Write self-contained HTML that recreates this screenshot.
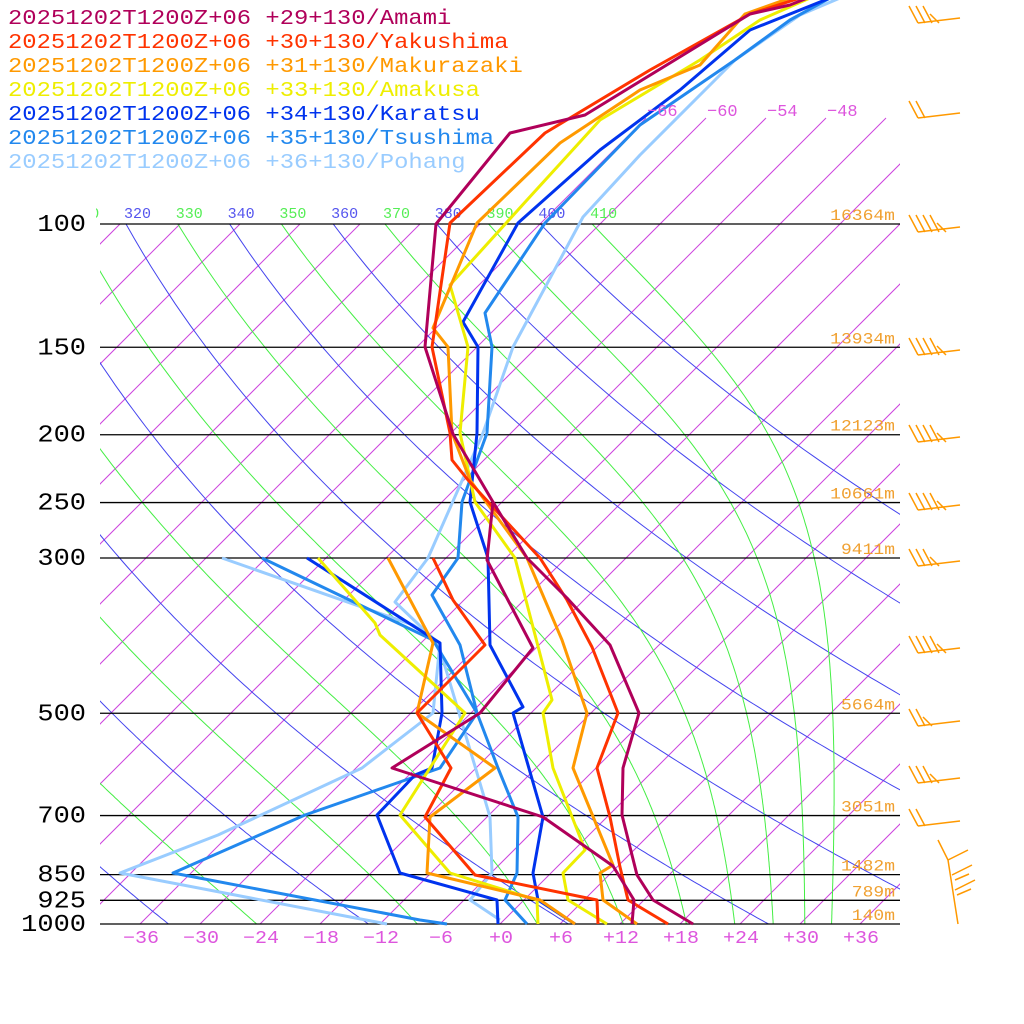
<!DOCTYPE html>
<html><head><meta charset="utf-8"><style>
html,body{margin:0;padding:0;background:#fff;width:1024px;height:1024px;overflow:hidden}
svg{display:block}
text{font-family:"Liberation Mono",monospace}
</style></head><body>
<svg id="s" width="1024" height="1024" viewBox="0 0 1024 1024" xmlns="http://www.w3.org/2000/svg">
<defs>
<clipPath id="plot"><rect x="100" y="224" width="800" height="700"/></clipPath>
<clipPath id="up"><rect x="100" y="110" width="800" height="814"/></clipPath>
<clipPath id="lab"><rect x="96" y="190" width="820" height="40"/></clipPath>
</defs>
<g id="iso" clip-path="url(#up)"></g>
<g id="moist" clip-path="url(#plot)"></g>
<g id="labs" clip-path="url(#lab)"></g>
<g id="grid"></g>
<g id="prof" fill="none" stroke-width="3" stroke-linejoin="round"></g>
<g id="txt"></g>
<g id="barbs" stroke="#ff9900" stroke-width="1.5" fill="none"></g>
</svg>
<script>
const NS="http://www.w3.org/2000/svg";
function el(tag,attrs,parent,text){const e=document.createElementNS(NS,tag);for(const k in attrs)e.setAttribute(k,attrs[k]);if(text!==undefined)e.textContent=text;document.getElementById(parent).appendChild(e);return e;}
const Y=p=>924-700*Math.log(1000/p)/Math.LN10;
const X=(T,y)=>500+10*T+(924-y);
// isotherms
for(let T=-120;T<=60;T+=6){
  const yTop = T>=-66 ? 118 : 224;
  el('line',{x1:X(T,924),y1:924,x2:X(T,yTop),y2:yTop,stroke:'#cc44dd','stroke-width':1},'iso');
}
[-66,-60,-54,-48].forEach(T=>{const x=X(T,118);el('text',{x:x+1,y:116,fill:'#dd55dd','font-size':17},'txt','−'+Math.abs(T));});
const Rd=287,cp=1005,Lv=2.5e6,eps=0.622;
function es(Tc){return 6.112*Math.exp(17.67*Tc/(Tc+243.5));}
// dry adiabats (blue, even)
for(let th=200;th<=400;th+=20){
  let pts=[];
  for(let p=100;p<=1000;p+=5){const y=Y(p);const T=th*Math.pow(p/1000,0.2857)-273.15;pts.push(X(T,y).toFixed(1)+','+y.toFixed(1));}
  el('polyline',{points:pts.join(' '),fill:'none',stroke:'#4444ee','stroke-width':1},'moist');
  el('text',{x:X(th*Math.pow(0.1,0.2857)-273.15,224)-2,y:218,fill:'#5555ee','font-size':15},'labs',String(th));
}
// moist adiabats (green, odd)
for(let th=210;th<=410;th+=20){
  let T=th*Math.pow(0.1,0.2857);
  let pts=[];
  for(let p=100;p<=1000;p+=1){
    const y=Y(p);
    if(p%4==0||p==1000)pts.push(X(T-273.15,y).toFixed(1)+','+y.toFixed(1));
    const e=es(T-273.15);const rs=eps*e/Math.max(p-e,1);
    T+=(Rd*T+Lv*rs)/(p*(cp+Lv*Lv*rs*eps/(Rd*T*T)));
  }
  el('polyline',{points:pts.join(' '),fill:'none',stroke:'#44ee44','stroke-width':1},'moist');
  el('text',{x:X(th*Math.pow(0.1,0.2857)-273.15,224)-2,y:218,fill:'#55ee55','font-size':15},'labs',String(th));
}
// pressure lines
const P=[[100,'100',16364],[150,'150',13934],[200,'200',12123],[250,'250',10661],[300,'300',9411],[500,'500',5664],[700,'700',3051],[850,'850',1482],[925,'925',789],[1000,'1000',140]];
P.forEach(([p,l,h])=>{const y=Y(p);
  el('line',{x1:100,y1:y,x2:900,y2:y,stroke:'#000','stroke-width':1.3},'grid');
  el('text',{x:86,y:y+7,'text-anchor':'end','font-size':24,fill:'#000',textLength:l.length*16.2,lengthAdjust:'spacingAndGlyphs'},'txt',l);
  const s=h+'m';
  el('text',{x:895,y:y-4,'text-anchor':'end','font-size':16,fill:'#f0a030',textLength:s.length*10.8,lengthAdjust:'spacingAndGlyphs'},'txt',s);
});
for(let T=-36;T<=36;T+=6){const x=500+10*T;const s=(T>=0?'+':'−')+Math.abs(T);
  el('text',{x:x+1,y:943,'text-anchor':'middle','font-size':18,fill:'#dd55dd',textLength:s.length*12,lengthAdjust:'spacingAndGlyphs'},'txt',s);}
// profiles
const S=[
['#b0005a',[[693,924],[653,900],[637,875],[622,815],[623,768],[639,713],[610,645],[567,598],[527,558],[493,502],[453,434],[425,347],[436,224],[510,133],[585,115],[750,14],[790,5],[815,-5]],
 [[632,924],[634,900],[613,866],[543,817],[392,768],[480,713],[533,648],[487,560],[493,502]]],
['#ff3300',[[668,924],[628,900],[620,867],[610,817],[597,768],[618,713],[592,647],[567,600],[540,558],[468,480],[452,460],[450,433],[432,347],[450,223],[545,133],[650,70],[750,14],[800,-2]],
 [[598,924],[597,900],[475,875],[425,817],[451,768],[417,713],[485,645],[453,600],[433,558]]],
['#ff9900',[[637,924],[603,900],[600,873],[613,865],[573,768],[587,713],[562,640],[527,558],[470,480],[452,433],[448,347],[433,328],[477,223],[560,143],[640,90],[700,65],[745,14],[790,-2]],
 [[575,924],[540,900],[427,873],[430,817],[495,768],[417,713],[433,643],[388,558]]],
['#eeee00',[[607,924],[568,900],[563,873],[585,850],[553,768],[543,713],[552,700],[515,558],[475,502],[460,433],[468,347],[450,285],[527,200],[600,120],[700,60],[760,20],[810,-2]],
 [[538,924],[537,900],[450,873],[400,815],[465,713],[380,635],[375,623],[318,558]]],
['#0033ee',[[575,924],[538,900],[533,873],[543,817],[513,713],[523,707],[490,645],[488,558],[470,502],[477,433],[478,347],[463,322],[518,223],[600,150],[680,90],[750,30],[830,-2]],
 [[498,924],[497,900],[400,873],[377,815],[415,775],[432,768],[442,713],[440,643],[307,558]]],
['#2288ee',[[527,924],[505,900],[517,873],[518,817],[498,768],[477,713],[460,645],[432,595],[458,558],[462,502],[487,433],[492,347],[485,313],[545,223],[640,125],[735,60],[790,20],[830,-2]],
 [[447,924],[420,920],[173,873],[305,815],[440,768],[477,713],[433,640],[262,558]]],
['#99ccff',[[500,920],[470,900],[492,873],[490,817],[477,773],[438,643],[395,602],[428,558],[483,433],[513,347],[583,217],[640,155],[735,60],[800,15],[840,-2]],
 [[387,924],[120,873],[218,835],[362,768],[433,713],[440,643],[413,625],[222,558]]]
];
for(let i=S.length-1;i>=0;i--){const [c,t,d]=S[i];
  el('polyline',{points:d.map(p=>p.join(',')).join(' '),stroke:c},'prof');
  el('polyline',{points:t.map(p=>p.join(',')).join(' '),stroke:c},'prof');
}
const L=['+29+130/Amami','+30+130/Yakushima','+31+130/Makurazaki','+33+130/Amakusa','+34+130/Karatsu','+35+130/Tsushima','+36+130/Pohang'];
L.forEach((n,i)=>{const s='20251202T1200Z+06 '+n;el('text',{x:8,y:24+i*24,'font-size':21,fill:S[i][0],textLength:s.length*14.3,lengthAdjust:'spacingAndGlyphs'},'txt',s);});
// barbs
[[15,4],[110,2],[224,5],[347,5],[434,5],[502,5],[558,4],[645,5],[718,3],[775,4],[818,2]].forEach(([y,n])=>{
  el('line',{x1:918,y1:y+8,x2:960,y2:y+3},'barbs');
  for(let k=0;k<n;k++){const x=918+k*7;const h=(k==n-1&&n>2)?9:17;el('line',{x1:x,y1:y+8,x2:x-9,y2:y+8-h},'barbs');}
});
el('polyline',{points:'938,840 948,860 958,924'},'barbs');
[[948,860],[952,875],[955,890]].forEach(([x,y])=>{el('line',{x1:x,y1:y,x2:x+20,y2:y-10},'barbs');});
[[955,880],[957,895]].forEach(([x,y])=>{el('line',{x1:x,y1:y,x2:x+14,y2:y-6},'barbs');});
</script>
</body></html>
